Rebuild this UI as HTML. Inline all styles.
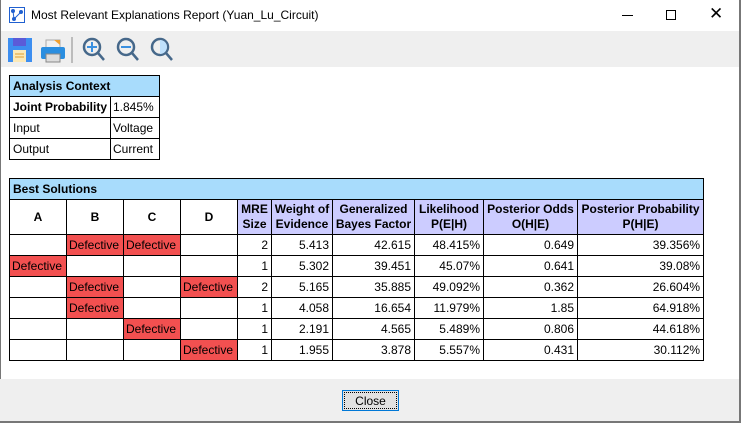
<!DOCTYPE html>
<html><head><meta charset="utf-8"><style>
*{margin:0;padding:0;box-sizing:border-box}
body{width:741px;height:423px;background:#fff;font-family:"Liberation Sans",Arial,sans-serif;font-size:12px;color:#000;position:relative;overflow:hidden}
.abs{position:absolute}
table{border-collapse:collapse;table-layout:fixed;position:absolute}
td{border:1px solid #000;padding:0 3px;white-space:nowrap;overflow:hidden;height:21px;line-height:19px}
.h{background:#a8dcfc;font-weight:bold}
.ph{background:#ccccff;font-weight:bold;text-align:center;line-height:15px}
.r{text-align:right}
.d{background:#f25050}
</style></head><body>
<div class="abs" style="left:0;top:0;width:741px;height:31px;background:#fff"></div>
<svg class="abs" style="left:9px;top:7px" width="16" height="16"><rect x="0.5" y="0.5" width="15" height="15" fill="#fff" stroke="#2060d0"/><circle cx="4" cy="4" r="2" fill="#2060d0"/><circle cx="12" cy="5" r="2" fill="#2060d0"/><circle cx="5" cy="12" r="2" fill="#2060d0"/><line x1="4" y1="4" x2="5" y2="12" stroke="#2060d0"/><line x1="12" y1="5" x2="5" y2="12" stroke="#2060d0"/></svg>
<div class="abs" style="left:31px;top:8px;font-size:12px">Most Relevant Explanations Report (Yuan_Lu_Circuit)</div>
<div class="abs" style="left:622px;top:15px;width:11px;height:1px;background:#000"></div>
<div class="abs" style="left:666px;top:10px;width:10px;height:10px;border:1px solid #000"></div>
<div class="abs" style="left:709px;top:4px;font-size:17px;line-height:20px">✕</div>
<div class="abs" style="left:0;top:31px;width:739px;height:36px;background:#efefef"></div>
<svg class="abs" style="left:6px;top:35px" width="180" height="30">
<rect x="2" y="3" width="24" height="24" fill="#3d8ef0"/><rect x="7" y="3" width="13" height="8" fill="#5b5bd8"/><rect x="7" y="15" width="13" height="12" fill="#fbe9b8"/><line x1="9" y1="19" x2="18" y2="19" stroke="#e0a030"/><line x1="9" y1="22" x2="18" y2="22" stroke="#e0a030"/>
<rect x="40" y="5" width="14" height="8" fill="#f0f0f0" stroke="#aaa"/><path d="M48 5 l6 0 l0 5z" fill="#f0a030"/><rect x="35" y="12" width="24" height="12" rx="2" fill="#2a8ee0"/><rect x="40" y="19" width="14" height="8" fill="#ddd" stroke="#888"/>
<line x1="66" y1="2" x2="66" y2="28" stroke="#888"/>
<g fill="none" stroke="#46688a" stroke-width="2.5"><circle cx="86" cy="12" r="8"/><line x1="92" y1="18" x2="98" y2="25"/><circle cx="120" cy="12" r="8"/><line x1="126" y1="18" x2="132" y2="25"/><circle cx="154" cy="12" r="8"/><line x1="160" y1="18" x2="166" y2="25"/></g>
<g stroke="#3a90e0" stroke-width="2"><line x1="81" y1="12" x2="91" y2="12"/><line x1="86" y1="7" x2="86" y2="17"/><line x1="115" y1="12" x2="125" y2="12"/></g>
<path d="M154 5 a7 7 0 0 1 0 14z" fill="#bfe0fb"/>
</svg>
<div class="abs" style="left:739px;top:0;width:2px;height:423px;background:#777"></div>
<div class="abs" style="left:0;top:0;width:1px;height:423px;background:#777"></div>

<table style="left:9px;top:75px;width:150px">
<col style="width:101px"><col style="width:49px">
<tr><td colspan="2" class="h">Analysis Context</td></tr>
<tr><td style="font-weight:bold">Joint Probability</td><td style="padding:0 2px">1.845%</td></tr>
<tr><td>Input</td><td style="padding:0 2px">Voltage</td></tr>
<tr><td>Output</td><td style="padding:0 2px">Current</td></tr>
</table>

<table style="left:9px;top:178px;width:694px">
<col style="width:57px"><col style="width:57px"><col style="width:57px"><col style="width:57px"><col style="width:34px"><col style="width:61px"><col style="width:82px"><col style="width:69px"><col style="width:94px"><col style="width:126px">
<tr><td colspan="10" class="h">Best Solutions</td></tr>
<tr style="height:35px"><td style="text-align:center;font-weight:bold;height:35px">A</td><td style="text-align:center;font-weight:bold">B</td><td style="text-align:center;font-weight:bold">C</td><td style="text-align:center;font-weight:bold">D</td><td class="ph" style="padding:0">MRE<br>Size</td><td class="ph" style="padding:0">Weight of<br>Evidence</td><td class="ph" style="padding:0">Generalized<br>Bayes Factor</td><td class="ph" style="padding:0">Likelihood<br>P(E|H)</td><td class="ph" style="padding:0">Posterior Odds<br>O(H|E)</td><td class="ph" style="padding:0">Posterior Probability<br>P(H|E)</td></tr>
<tr><td></td><td class="d" style="padding:0 2px">Defective</td><td class="d" style="padding:0 2px">Defective</td><td></td><td class="r">2</td><td class="r">5.413</td><td class="r">42.615</td><td class="r">48.415%</td><td class="r">0.649</td><td class="r">39.356%</td></tr>
<tr><td class="d" style="padding:0 2px">Defective</td><td></td><td></td><td></td><td class="r">1</td><td class="r">5.302</td><td class="r">39.451</td><td class="r">45.07%</td><td class="r">0.641</td><td class="r">39.08%</td></tr>
<tr><td></td><td class="d" style="padding:0 2px">Defective</td><td></td><td class="d" style="padding:0 2px">Defective</td><td class="r">2</td><td class="r">5.165</td><td class="r">35.885</td><td class="r">49.092%</td><td class="r">0.362</td><td class="r">26.604%</td></tr>
<tr><td></td><td class="d" style="padding:0 2px">Defective</td><td></td><td></td><td class="r">1</td><td class="r">4.058</td><td class="r">16.654</td><td class="r">11.979%</td><td class="r">1.85</td><td class="r">64.918%</td></tr>
<tr><td></td><td></td><td class="d" style="padding:0 2px">Defective</td><td></td><td class="r">1</td><td class="r">2.191</td><td class="r">4.565</td><td class="r">5.489%</td><td class="r">0.806</td><td class="r">44.618%</td></tr>
<tr><td></td><td></td><td></td><td class="d" style="padding:0 2px">Defective</td><td class="r">1</td><td class="r">1.955</td><td class="r">3.878</td><td class="r">5.557%</td><td class="r">0.431</td><td class="r">30.112%</td></tr>
</table>

<div class="abs" style="left:0;top:379px;width:739px;height:44px;background:#efefef"></div>
<div class="abs" style="left:0;top:421px;width:741px;height:2px;background:#777"></div>
<div class="abs" style="left:342px;top:390px;width:57px;height:21px;border:1px solid #0078d7;background:#e1e1e1"><div style="position:absolute;left:1px;top:1px;right:1px;bottom:1px;border:1px dotted #000;text-align:center;line-height:16px">Close</div></div>
</body></html>
